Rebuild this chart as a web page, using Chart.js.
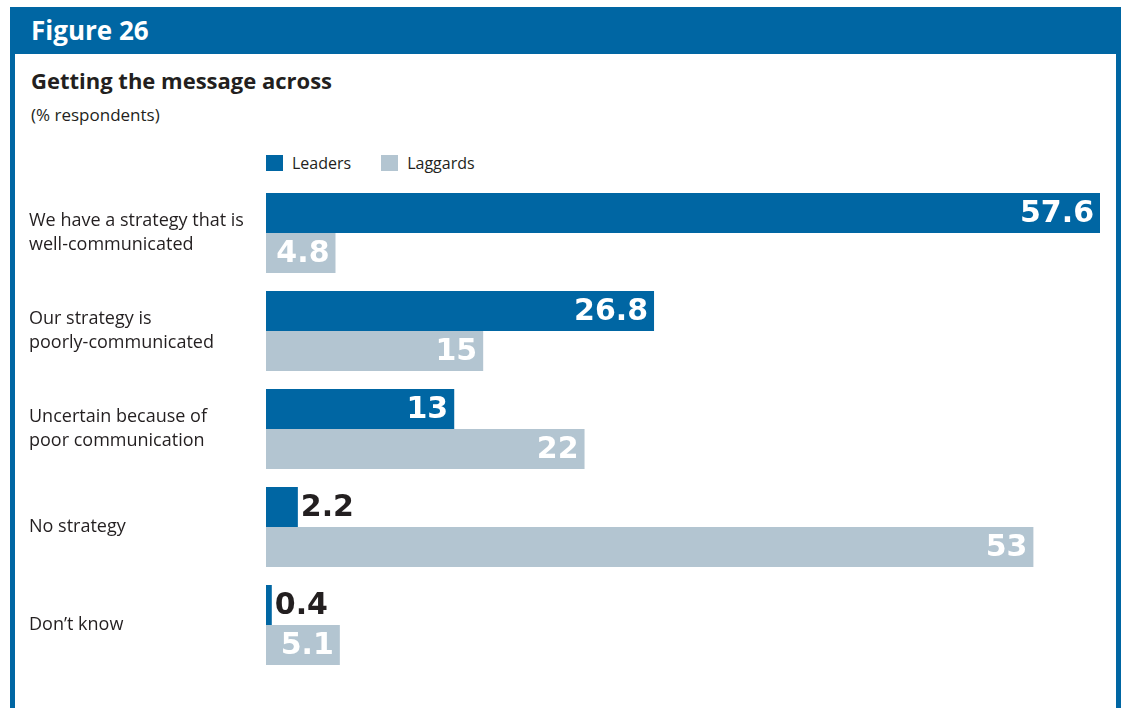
<!DOCTYPE html>
<html>
<head>
<meta charset="utf-8">
<script src="https://cdn.jsdelivr.net/npm/chart.js@4.4.1/dist/chart.umd.min.js"></script>
<style>
  html, body { margin: 0; padding: 0; background: #fff; }
  body { width: 1124px; height: 708px; position: relative; overflow: hidden; font-family: 'Open Sans', sans-serif; color: #231f20; }
  .frame { position: absolute; left: 10px; top: 7px; width: 1101px; height: 720px; border: 5px solid #0066a3; border-top: none; }
  .band { position: absolute; left: 10px; top: 7px; width: 1111px; height: 47px; background: #0066a3; }
  .band span { position: absolute; left: 21px; top: 5px; color: #fff; font-weight: 700; font-size: 26px; }
  .title { position: absolute; left: 31px; top: 65px; font-weight: 700; font-size: 22px; }
  .sub { position: absolute; left: 31px; top: 103px; font-size: 17px; }
  .legend { position: absolute; left: 266px; top: 152px; font-size: 16px; display: flex; }
  .legend div { display: flex; align-items: center; margin-right: 30px; }
  .legend i { display: inline-block; width: 17px; height: 16px; margin-right: 9px; }
  .wrap { position: absolute; left: 29px; top: 184px; width: 1081px; height: 490px; }
</style>
</head>
<body>
<div class="frame"></div>
<div class="band"><span>Figure 26</span></div>
<div class="title">Getting the message across</div>
<div class="sub">(% respondents)</div>
<div class="legend" id="legend"></div>
<div class="wrap"><canvas id="chart"></canvas></div>
<script>
// Survey answers, one row per category
const categories = [
  ['We have a strategy that is', 'well-communicated'],
  ['Our strategy is', 'poorly-communicated'],
  ['Uncertain because of', 'poor communication'],
  'No strategy',
  'Don\u2019t know'
];
const leaders = [57.6, 26.8, 13, 2.2, 0.4];
const laggards = [4.8, 15, 22, 53, 5.1];
const seriesNames = ['Leaders', 'Laggards'];
const seriesColors = ['#0066a3', '#b3c5d1'];
const xMax = 57.6;

// Value labels: white inside the bar, dark outside when the bar is too short
const valueLabels = {
  id: 'valueLabels',
  afterDatasetsDraw(chart) {
    const ctx = chart.ctx;
    ctx.save();
    ctx.font = 'bold 30px "DejaVu Sans"';
    ctx.textBaseline = 'middle';
    chart.data.datasets.forEach((ds, i) => {
      chart.getDatasetMeta(i).data.forEach((bar, j) => {
        const v = ds.data[j];
        const txt = String(v);
        const w = ctx.measureText(txt).width;
        if (bar.x - bar.base > w + 10) {
          ctx.fillStyle = '#fff';
          ctx.textAlign = 'right';
          ctx.fillText(txt, bar.x - 6, bar.y + 1);
        } else {
          ctx.fillStyle = '#231f20';
          ctx.textAlign = 'left';
          ctx.fillText(txt, bar.x + 3, bar.y + 1);
        }
      });
    });
    ctx.restore();
  }
};

// Legend drawn as plain html above the bars
document.getElementById('legend').innerHTML = seriesNames
  .map((n, i) => '<div><i style="background:' + seriesColors[i] + '"></i>' + n + '</div>')
  .join('');

new Chart(document.getElementById('chart'), {
  type: 'bar',
  data: {
    labels: categories,
    datasets: [
      { label: seriesNames[0], data: leaders, backgroundColor: seriesColors[0] },
      { label: seriesNames[1], data: laggards, backgroundColor: seriesColors[1] }
    ]
  },
  options: {
    indexAxis: 'y',
    responsive: true,
    maintainAspectRatio: false,
    animation: false,
    categoryPercentage: 80 / 98,
    barPercentage: 1.0,
    layout: { padding: { left: 0, right: 10, top: 0, bottom: 0 } },
    plugins: { legend: { display: false }, tooltip: { enabled: false } },
    scales: {
      x: { display: false, min: 0, max: xMax },
      y: {
        grid: { display: false, drawTicks: false },
        border: { display: false },
        ticks: {
          crossAlign: 'far',
          color: '#231f20',
          padding: 0,
          font: { family: "'Open Sans', sans-serif", size: 18, lineHeight: 1.35 }
        },
        afterFit(scale) {
          // fixed label column; no extra room for the first/last labels
          scale.width = 237;
          scale.paddingTop = 0;
          scale.paddingBottom = 0;
        }
      }
    }
  },
  plugins: [valueLabels]
});
</script>
</body>
</html>
